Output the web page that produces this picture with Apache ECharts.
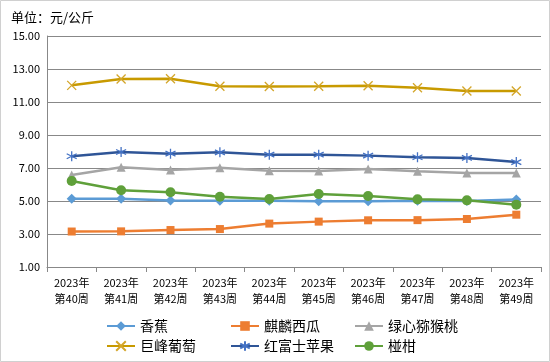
<!DOCTYPE html>
<html><head><meta charset="utf-8">
<script src="https://cdn.jsdelivr.net/npm/echarts@6/dist/echarts.min.js"></script>
<style>html,body{margin:0;padding:0;background:#fff}#c{width:550px;height:362px}</style>
</head><body><div id="c"></div>
<script>
const categories = ['2023年\n第40周','2023年\n第41周','2023年\n第42周','2023年\n第43周','2023年\n第44周','2023年\n第45周','2023年\n第46周','2023年\n第47周','2023年\n第48周','2023年\n第49周'];
const banana = [5.14,5.13,5.03,5.02,5.02,4.98,4.98,5.01,5.00,5.09];
const watermelon = [3.15,3.16,3.24,3.30,3.63,3.75,3.83,3.84,3.91,4.17];
const kiwi = [6.58,7.04,6.88,7.02,6.84,6.82,6.94,6.80,6.70,6.70];
const grape = [12.01,12.39,12.41,11.95,11.94,11.95,11.98,11.86,11.67,11.67];
const apple = [7.71,7.97,7.87,7.95,7.81,7.81,7.75,7.65,7.61,7.36];
const orange = [6.21,5.65,5.53,5.26,5.12,5.42,5.30,5.10,5.04,4.78];
const yTicks = [1,3,5,7,9,11,13,15];

const font = '"Noto Sans CJK SC", "DejaVu Sans", sans-serif';
const X = 'path://M0,0L10,10M10,0L0,10';
const STAR = 'path://M5,0L5,10M0.7,2.5L9.3,7.5M0.7,7.5L9.3,2.5';

const defs = [
  {name:'香蕉', data:banana, color:'#5B9BD5', symbol:'diamond', size:10},
  {name:'麒麟西瓜', data:watermelon, color:'#ED7D31', symbol:'rect', size:8},
  {name:'绿心猕猴桃', data:kiwi, color:'#A5A5A5', symbol:'triangle', size:9},
  {name:'巨峰葡萄', data:grape, color:'#C89A00', symbol:X, size:9, stroke:'#D4A62A'},
  {name:'红富士苹果', data:apple, color:'#2F5597', symbol:STAR, size:10, stroke:'#4472C4'},
  {name:'椪柑', data:orange, color:'#5FA03A', symbol:'circle', size:10}
];

const series = defs.map(d => ({
  name: d.name, type:'line', data: d.data,
  symbol: d.symbol, symbolSize: d.size, showAllSymbol:true,
  lineStyle:{color:d.color, width:2.5},
  itemStyle: d.stroke ? {color:d.color, borderColor:d.stroke, borderWidth:1.3} : {color:d.color},
  emphasis:{disabled:true}, animation:false
}));

const colX = [101, 225, 349];
const rowY = [314, 334];
const legends = defs.map((d,i) => ({
  data:[d.name], left: colX[i%3], top: rowY[Math.floor(i/3)],
  itemWidth:28, itemHeight:12, itemGap:5,
  textStyle:{fontFamily:font, fontSize:14, color:'#000'}
}));

const chart = echarts.init(document.getElementById('c'));
chart.setOption({
  animation:false,
  title:{text:'单位：元/公斤', left:6, top:6, textStyle:{fontFamily:font, fontSize:13, fontWeight:'normal', color:'#000'}},
  legend: legends,
  graphic:[{type:'rect', shape:{x:0.5,y:0.5,width:549,height:361}, style:{fill:'none', stroke:'#D0D0D0', lineWidth:1}, silent:true}],
  grid:{left:47, right:9, top:36, bottom:95},
  xAxis:{type:'category', data:categories, boundaryGap:true,
    axisLine:{lineStyle:{color:'#888', width:1}},
    axisTick:{show:true, alignWithLabel:false, length:5, lineStyle:{color:'#888'}},
    axisLabel:{fontFamily:font, fontSize:11, color:'#000', margin:8, lineHeight:16, interval:0}},
  yAxis:{type:'value', min:yTicks[0], max:yTicks[yTicks.length-1], interval:2,
    axisLine:{show:true, lineStyle:{color:'#888'}},
    axisTick:{show:false},
    splitLine:{lineStyle:{color:'#888', width:1}},
    axisLabel:{fontFamily:font, fontSize:11, color:'#000', margin:7, formatter:v=>v.toFixed(2)}},
  series: series
});
</script></body></html>
